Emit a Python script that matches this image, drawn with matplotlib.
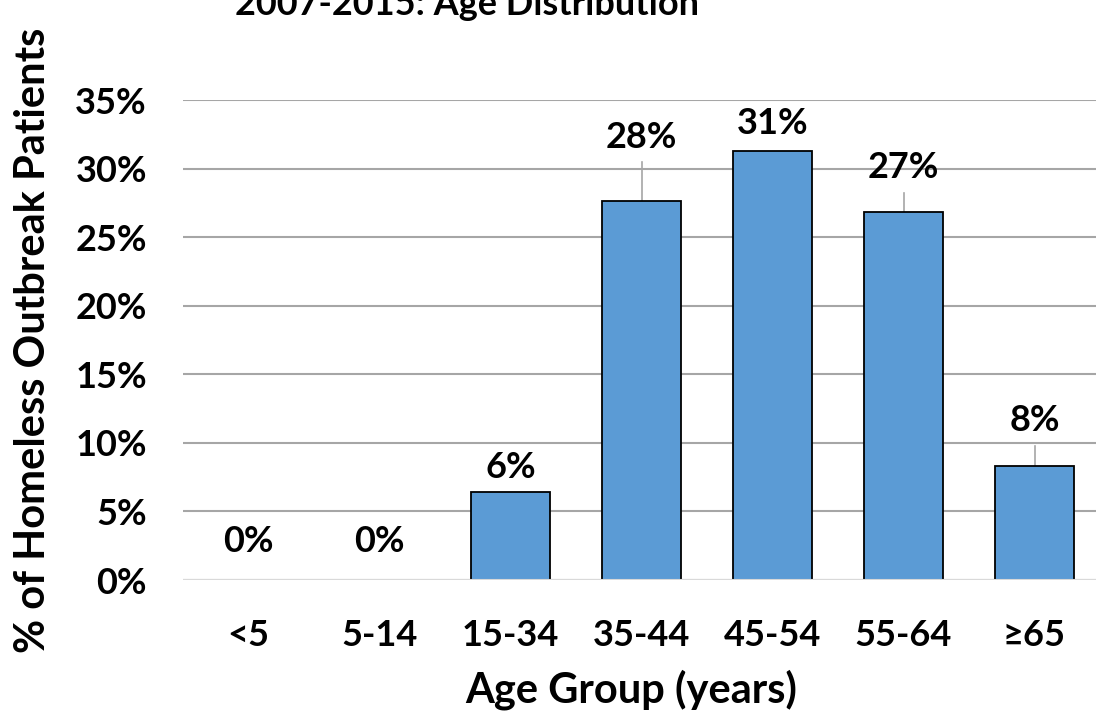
import matplotlib
matplotlib.use("Agg")
import matplotlib.pyplot as plt
from matplotlib.ticker import FuncFormatter

categories = ["<5", "5-14", "15-34", "35-44", "45-54", "55-64", "\u226565"]
values = [0.0, 0.0, 6.4, 27.6, 31.3, 26.8, 8.3]
labels = ["0%", "0%", "6%", "28%", "31%", "27%", "8%"]
title = "2007-2015: Age Distribution"

plt.rcParams['font.family'] = ['Lato', 'DejaVu Sans']
W, H = 1096, 719
fig = plt.figure(figsize=(W/100, H/100), dpi=100)
ax = fig.add_axes([183/W, 1-580/H, (1100-183)/W, (580-100)/H])

x = list(range(len(categories)))
ax.bar(x, values, width=0.61, color="#5B9BD5", edgecolor="black", linewidth=1.3, zorder=3)
ax.set_xlim(-0.5, len(categories)-0.5)
ax.set_ylim(0, 35)
ax.set_yticks(range(0, 36, 5))
ax.yaxis.set_major_formatter(FuncFormatter(lambda v, p: f"{int(v)}%"))
ax.grid(axis='y', color="#A6A6A6", linewidth=1.5, zorder=0)
ax.set_axisbelow(True)
for s in ax.spines.values():
    s.set_visible(False)
ax.axhline(0, color="#D9D9D9", linewidth=1.5, zorder=4)
ax.tick_params(axis='both', length=0, labelsize=26)
ax.set_xticks(x)
ax.set_xticklabels(categories, fontweight='bold')
for t in ax.get_yticklabels():
    t.set_fontweight('bold')
ax.tick_params(axis='x', pad=28)
ax.tick_params(axis='y', pad=26)

# label centre offsets above bar tops (data units)
offsets = [2.8, 2.8, 1.8, 4.7, 2.0, 3.25, 3.3]
for i, (v, lab, off) in enumerate(zip(values, labels, offsets)):
    ty = v + off
    ax.text(i, ty, lab, ha='center', va='center', fontsize=26, fontweight='bold')
    if off > 2.5 and v > 0:
        ax.plot([i, i], [v, ty - 1.8], color="#A6A6A6", linewidth=1.2, zorder=2)

ax.set_xlabel("Age Group (years)", fontsize=30, fontweight='bold')
ax.set_ylabel("% of Homeless Outbreak Patients", fontsize=30, fontweight='bold')
ax.yaxis.set_label_coords(-150/917, 0.5)
ax.xaxis.set_label_coords(0.5 - 10/917, -(690-580)/480)
ax.xaxis.label.set_va('center')
ax.yaxis.label.set_va('center')
fig.text(467/W, 1-15/H, title, ha='center', va='baseline', fontsize=26, fontweight='bold')

fig.savefig("out.png", dpi=100)
